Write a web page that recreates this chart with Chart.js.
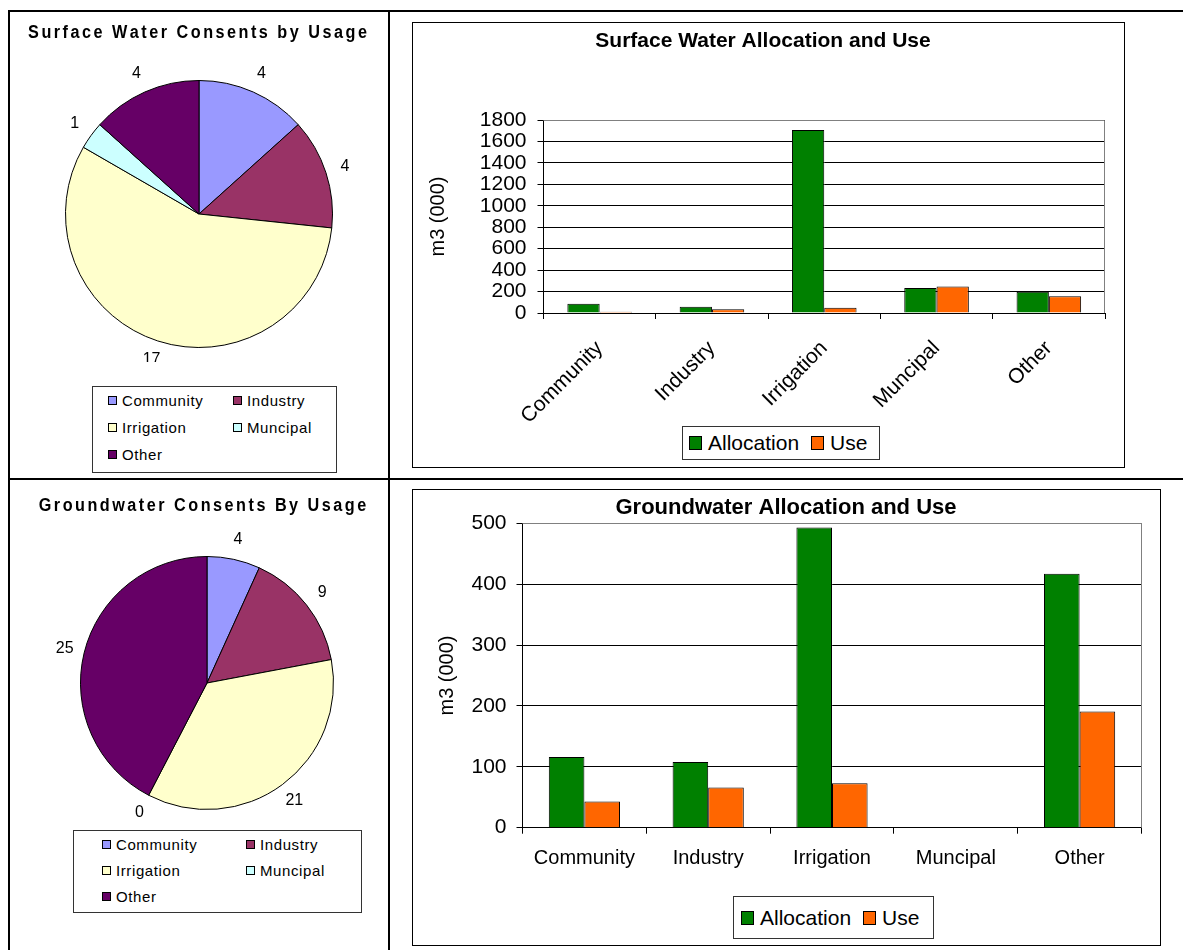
<!DOCTYPE html>
<html>
<head>
<meta charset="utf-8">
<script src="https://cdn.jsdelivr.net/npm/chart.js@4.4.1/dist/chart.umd.min.js"></script>
<style>
  body { margin: 0; width: 1183px; height: 950px; overflow: hidden; position: relative; background: #fff;
         font-family: "Liberation Sans", Arial, sans-serif; color: #000; }
  .rule { position: absolute; background: #000; }
  .frame { position: absolute; border: 1px solid #000; box-sizing: border-box; }
  canvas { position: absolute; }
  .legend { position: absolute; box-sizing: border-box; border: 1px solid #333; background: #fff; }
  .legend .item { display: flex; align-items: center; white-space: nowrap; }
  .pie-legend { display: grid; align-content: start; font-size: 15px; letter-spacing: 0.6px; }
  .pie-legend .swatch { width: 7px; height: 7px; border: 1px solid #000; margin-right: 5px; }
  .bar-legend { display: flex; align-items: center; font-size: 21px; }
  .bar-legend .item { margin-right: 12px; }
  .bar-legend .swatch { width: 11px; height: 12px; border: 1px solid #000; margin-right: 6px; }
</style>
</head>
<body>
<div class="rule" style="left:8px;top:10px;width:1180px;height:2px"></div>
<div class="rule" style="left:8px;top:10px;width:2px;height:945px"></div>
<div class="rule" style="left:388px;top:10px;width:2px;height:945px"></div>
<div class="rule" style="left:8px;top:478px;width:1180px;height:2px"></div>

<div class="frame" style="left:412px;top:22px;width:713px;height:446px"></div>
<div class="frame" style="left:412px;top:489px;width:749px;height:457px"></div>

<canvas id="surfacePie" width="377" height="350" style="left:10px;top:12px"></canvas>
<canvas id="groundPie" width="377" height="340" style="left:14px;top:480px"></canvas>
<canvas id="surfaceBar" width="711" height="444" style="left:413px;top:23px"></canvas>
<canvas id="groundBar" width="747" height="455" style="left:413px;top:490px"></canvas>

<div id="surfacePieLegend" class="legend pie-legend"
     style="left:92px;top:386px;width:245px;height:87px;padding-left:15px;grid-template-columns:125px 100px;grid-auto-rows:27px"></div>
<div id="groundPieLegend" class="legend pie-legend"
     style="left:73px;top:830px;width:289px;height:83px;padding-left:28px;grid-template-columns:144px 110px;grid-auto-rows:26px"></div>
<div id="surfaceBarLegend" class="legend bar-legend" style="left:682px;top:426px;width:198px;height:34px;padding-left:6px"></div>
<div id="groundBarLegend" class="legend bar-legend" style="left:733px;top:896px;width:201px;height:43px;padding-left:7px"></div>

<script>
const usageLabels = ['Community', 'Industry', 'Irrigation', 'Muncipal', 'Other'];
const usageColours = ['#9999FF', '#993366', '#FFFFCC', '#CCFFFF', '#660066'];

// consent counts per usage
const surfaceConsents = [4, 4, 17, 1, 4];
const groundConsents = [4, 9, 21, 0, 25];

// m3 (000)
const surfaceAllocation = [87, 58, 1707, 232, 198];
const surfaceUse = [12, 36, 49, 247, 157];
const groundAllocation = [116, 108, 493, 0, 417];
const groundUse = [43, 66, 73, 0, 191];

const surfaceMax = 1800, surfaceStep = 200;
const groundMax = 500, groundStep = 100;

const ARIAL = '"Liberation Sans", Arial, sans-serif';

// legend as html so the pie legend can sit in two fixed columns
const htmlLegend = {
    id: 'htmlLegend',
    afterUpdate(chart, args, opts) {
        const box = document.getElementById(opts.containerID);
        box.innerHTML = '';
        const items = chart.options.plugins.legend.labels.generateLabels(chart);
        items.forEach(item => {
            const row = document.createElement('div');
            row.className = 'item';
            const swatch = document.createElement('span');
            swatch.className = 'swatch';
            swatch.style.background = item.fillStyle;
            const text = document.createElement('span');
            text.textContent = item.text;
            row.append(swatch, text);
            box.appendChild(row);
        });
    }
};

// pie titles are letter-spaced, so they are drawn a glyph at a time
const spacedTitle = {
    id: 'spacedTitle',
    afterDraw(chart, args, opts) {
        const ctx = chart.ctx;
        const chars = Array.from(opts.text);
        ctx.save();
        ctx.font = opts.font;
        ctx.fillStyle = '#000';
        ctx.textAlign = 'left';
        ctx.textBaseline = 'middle';
        const widths = chars.map(c => ctx.measureText(c).width * opts.squeeze);
        const total = widths.reduce((a, b) => a + b, 0) + opts.spacing * (chars.length - 1);
        let x = opts.x - total / 2;
        chars.forEach((c, i) => {
            ctx.save();
            ctx.translate(x, opts.y);
            ctx.scale(opts.squeeze, 1);
            ctx.fillText(c, 0, 0);
            ctx.restore();
            x += widths[i] + opts.spacing;
        });
        ctx.restore();
    }
};

// value next to each slice
const sliceValues = {
    id: 'sliceValues',
    afterDatasetsDraw(chart, args, opts) {
        const ctx = chart.ctx;
        const values = chart.data.datasets[0].data;
        ctx.save();
        ctx.font = opts.font;
        ctx.fillStyle = '#000';
        ctx.textAlign = 'center';
        ctx.textBaseline = 'middle';
        chart.getDatasetMeta(0).data.forEach((arc, i) => {
            const p = arc.getProps(['x', 'y', 'startAngle', 'endAngle', 'outerRadius'], true);
            const mid = (p.startAngle + p.endAngle) / 2;
            const r = p.outerRadius + opts.offset;
            ctx.fillText(String(values[i]), p.x + Math.cos(mid) * r, p.y + Math.sin(mid) * r);
        });
        ctx.restore();
    }
};

// grey top and right edge of the plot area
const plotFrame = {
    id: 'plotFrame',
    beforeDatasetsDraw(chart, args, opts) {
        const {ctx, chartArea: a} = chart;
        const top = Math.round(a.top) + 0.5;
        const right = Math.round(a.right) - 0.5;
        ctx.save();
        ctx.strokeStyle = opts.color;
        ctx.lineWidth = 1;
        ctx.beginPath();
        ctx.moveTo(a.left, top);
        ctx.lineTo(right, top);
        ctx.lineTo(right, a.bottom);
        ctx.stroke();
        ctx.restore();
    }
};

function pieChart(id, values, cfg) {
    return new Chart(document.getElementById(id), {
        type: 'pie',
        data: {
            labels: usageLabels,
            datasets: [{
                data: values,
                backgroundColor: usageColours,
                borderColor: '#000',
                borderWidth: 1
            }]
        },
        options: {
            responsive: false,
            animation: false,
            layout: { padding: cfg.padding },
            plugins: {
                legend: { display: false },
                tooltip: { enabled: false },
                spacedTitle: {
                    text: cfg.title,
                    font: 'bold 18px ' + ARIAL,
                    squeeze: 0.9,
                    spacing: 2.5,
                    x: cfg.titleX,
                    y: cfg.titleY
                },
                htmlLegend: { containerID: cfg.legend },
                sliceValues: { font: '16px ' + ARIAL, offset: 20 }
            }
        },
        plugins: [spacedTitle, htmlLegend, sliceValues]
    });
}

function barChart(id, allocation, use, cfg) {
    return new Chart(document.getElementById(id), {
        type: 'bar',
        data: {
            labels: usageLabels,
            datasets: [
                {
                    label: 'Allocation',
                    data: allocation,
                    backgroundColor: '#008000',
                    borderColor: '#000',
                    borderWidth: 1
                },
                {
                    label: 'Use',
                    data: use,
                    backgroundColor: '#FF6600',
                    borderColor: '#000',
                    borderWidth: 1
                }
            ]
        },
        options: {
            responsive: false,
            animation: false,
            categoryPercentage: 0.575,
            barPercentage: 1,
            layout: { padding: cfg.padding },
            plugins: {
                legend: { display: false },
                tooltip: { enabled: false },
                title: {
                    display: true,
                    text: cfg.title,
                    color: '#000',
                    font: { family: ARIAL, size: cfg.titleSize, weight: 'bold', lineHeight: 1.2 },
                    padding: cfg.titlePadding
                },
                htmlLegend: { containerID: cfg.legend },
                plotFrame: { color: '#808080' }
            },
            scales: {
                x: {
                    grid: { drawOnChartArea: false, drawTicks: true, tickLength: 6, color: '#000', offset: true },
                    border: { color: '#000' },
                    ticks: {
                        color: '#000',
                        font: { family: ARIAL, size: cfg.xFont },
                        minRotation: cfg.rotation,
                        maxRotation: cfg.rotation,
                        padding: cfg.xPad,
                        autoSkip: false
                    },
                    afterFit: s => { s.height = cfg.xHeight; }
                },
                y: {
                    min: 0,
                    max: cfg.max,
                    ticks: {
                        stepSize: cfg.step,
                        autoSkip: false,
                        color: '#000',
                        font: { family: ARIAL, size: 21 },
                        padding: cfg.yPad,
                        callback: value => String(value)
                    },
                    grid: { color: '#000', tickLength: 6 },
                    border: { color: '#000' },
                    title: {
                        display: true,
                        text: 'm3 (000)',
                        color: '#000',
                        font: { family: ARIAL, size: 20 },
                        padding: { top: 5, bottom: 4 }
                    },
                    afterFit: s => { s.width = cfg.yWidth; }
                }
            }
        },
        plugins: [htmlLegend, plotFrame]
    });
}

pieChart('surfacePie', surfaceConsents, {
    title: 'Surface Water Consents by Usage',
    legend: 'surfacePieLegend',
    titleX: 187.5,
    titleY: 21,
    padding: { left: 55, right: 54, top: 68, bottom: 14 }
});

pieChart('groundPie', groundConsents, {
    title: 'Groundwater Consents By Usage',
    legend: 'groundPieLegend',
    titleX: 188.5,
    titleY: 26,
    padding: { left: 66, right: 57, top: 76, bottom: 10 }
});

barChart('surfaceBar', surfaceAllocation, surfaceUse, {
    title: 'Surface Water Allocation and Use',
    titleSize: 21,
    legend: 'surfaceBarLegend',
    max: surfaceMax,
    step: surfaceStep,
    rotation: 45,
    xFont: 21,
    xPad: 17,
    xHeight: 110,
    yWidth: 122.5,
    yPad: 11,
    titlePadding: { top: 5.4, bottom: 66.4 },
    padding: { left: 8, right: 19, top: 0, bottom: 44 }
});

barChart('groundBar', groundAllocation, groundUse, {
    title: 'Groundwater Allocation and Use',
    titleSize: 22,
    legend: 'groundBarLegend',
    max: groundMax,
    step: groundStep,
    rotation: 0,
    xFont: 20,
    xPad: 12.3,
    xHeight: 60,
    yWidth: 92,
    yPad: 10,
    titlePadding: { top: 4.8, bottom: 2.1 },
    padding: { left: 17.5, right: 18.5, top: 0, bottom: 57.3 }
});
</script>
</body>
</html>
